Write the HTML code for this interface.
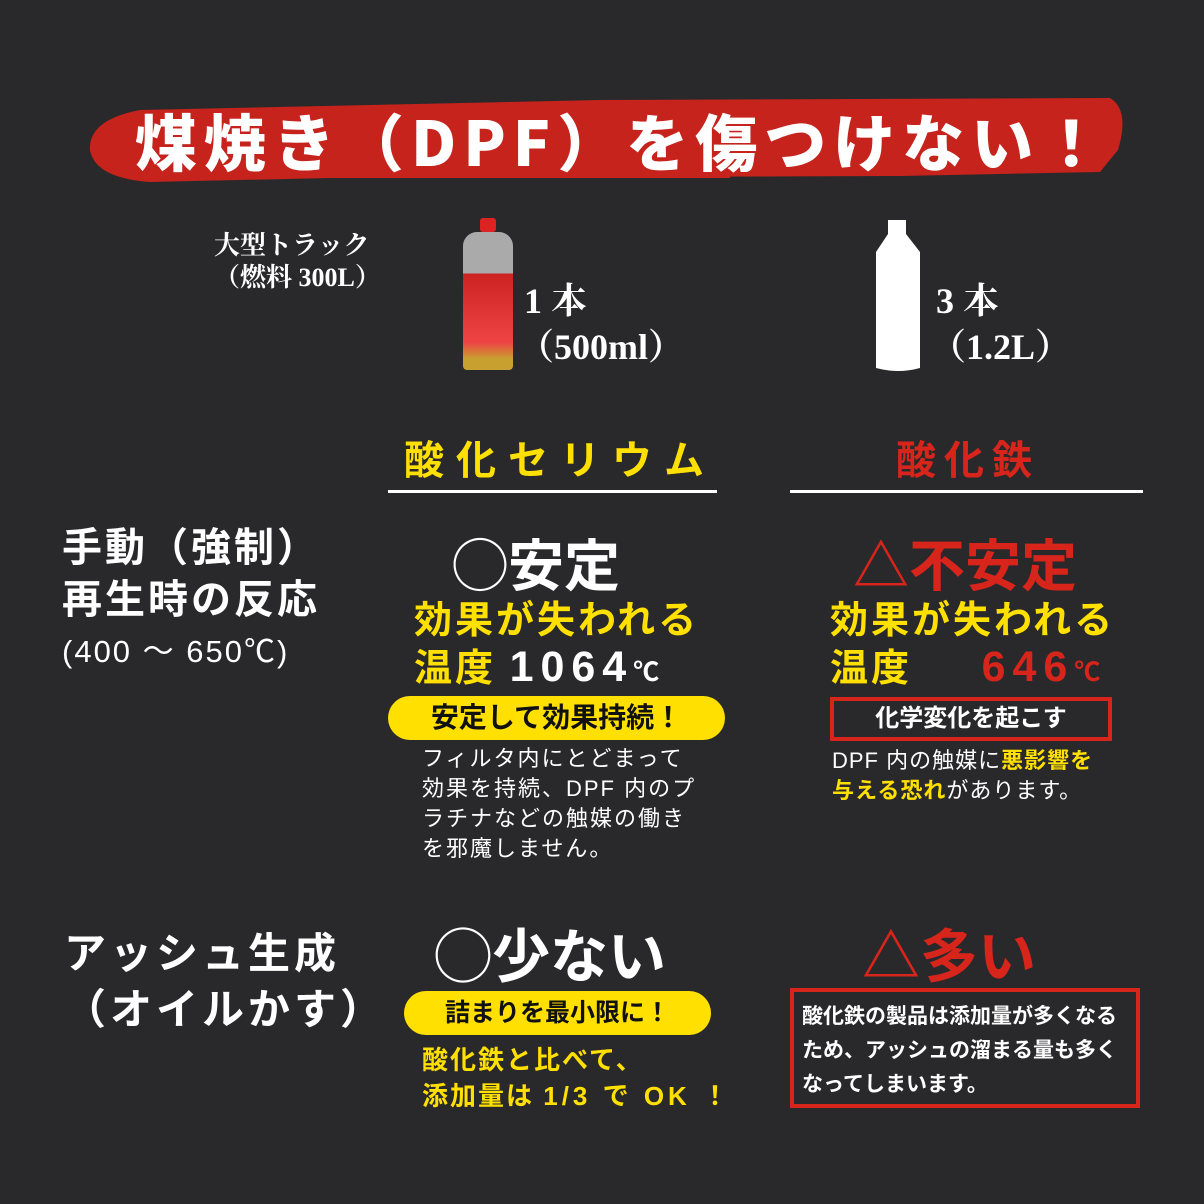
<!DOCTYPE html>
<html><head><meta charset="utf-8"><style>
body{margin:0;width:1204px;height:1204px;background:#29292b;position:relative;overflow:hidden;font-family:"Liberation Sans","Noto Sans CJK JP",sans-serif;font-weight:bold;color:#fff}
.a{position:absolute;white-space:nowrap}
.s{font-family:"Liberation Serif","Noto Serif CJK SC",serif}
.y{color:#ffe000}.r{color:#d8251c}
.pill{position:absolute;background:#ffe000;color:#111;border-radius:22px;text-align:center}
.box{position:absolute;border:4px solid #d8251c;box-sizing:border-box}
</style></head><body>
<svg class="a" style="left:0;top:0" width="1204" height="200">
<path d="M90 150 Q88 120 140 110 L600 100 L1110 98 Q1130 110 1118 150 L1100 172 L900 176 L330 178 L150 182 Q95 178 90 150Z" fill="#c5231c"/>
<rect x="330" y="174" width="400" height="4" fill="#c5231c"/>
</svg>
<div class="a" style="left:135px;top:94px;font-size:62px;letter-spacing:7px;font-family:'Noto Sans CJK JP',sans-serif;font-weight:900">煤焼き（DPF）を傷つけない！</div>
<div class="a s" style="left:214px;top:230px;font-size:26px;line-height:32px">大型トラック<br>（燃料 300L）</div>
<div class="a" style="left:463px;top:232px;width:50px;height:138px;background:linear-gradient(#aaa 0,#aaa 30%,#c22 30%,#e44 80%,#c8a030 92%);border-radius:14px 14px 4px 4px"></div>
<div class="a" style="left:480px;top:218px;width:16px;height:14px;background:#d22;border-radius:3px"></div>
<div class="a s" style="left:524px;top:278px;font-size:36px;line-height:46px">1 本<br><span style="margin-left:-6px">（500ml）</span></div>
<svg class="a" style="left:872px;top:220px" width="52" height="152"><path d="M16 0 H34 V14 L48 32 V148 Q26 154 4 148 V32 L16 14Z" fill="#fff"/></svg>
<div class="a s" style="left:936px;top:278px;font-size:36px;line-height:46px">3 本<br><span style="margin-left:-6px">（1.2L）</span></div>
<div class="a y" style="left:404px;top:428px;font-size:40px;letter-spacing:12px">酸化セリウム</div>
<div class="a r" style="left:896px;top:428px;font-size:40px;letter-spacing:8px">酸化鉄</div>
<div class="a" style="left:388px;top:490px;width:329px;height:3px;background:#fff"></div>
<div class="a" style="left:790px;top:490px;width:353px;height:3px;background:#fff"></div>
<div class="a" style="left:62px;top:522px;font-size:40px;line-height:52px;letter-spacing:3px">手動（強制）<br>再生時の反応</div>
<div class="a" style="left:62px;top:626px;font-size:31px;font-weight:normal;letter-spacing:2px">(400 ～ 650℃)</div>
<div class="a" style="left:452px;top:522px;font-size:56px">◯安定</div>
<div class="a y" style="left:414px;top:598px;font-size:38px;line-height:46px;letter-spacing:3px">効果が失われる<br>温度 <span style="color:#fff;letter-spacing:7px;font-size:43px">1064</span><span style="color:#fff;font-size:26px">℃</span></div>
<div class="pill" style="left:388px;top:696px;width:337px;height:44px;font-size:28px;line-height:44px">安定して効果持続！</div>
<div class="a" style="left:422px;top:744px;font-size:22px;line-height:30px;font-weight:normal;letter-spacing:2px">フィルタ内にとどまって<br>効果を持続、DPF 内のプ<br>ラチナなどの触媒の働き<br>を邪魔しません。</div>
<div class="a r" style="left:853px;top:522px;font-size:56px">△<span>不安定</span></div>
<div class="a y" style="left:830px;top:598px;font-size:38px;line-height:46px;letter-spacing:3px">効果が失われる<br>温度 <span class="r" style="margin-left:56px;letter-spacing:7px;font-size:43px">646</span><span class="r" style="font-size:26px">℃</span></div>
<div class="box" style="left:830px;top:697px;width:282px;height:44px;font-size:24px;line-height:36px;text-align:center">化学変化を起こす</div>
<div class="a" style="left:832px;top:746px;font-size:22px;line-height:30px;font-weight:normal;letter-spacing:1px">DPF 内の触媒に<span class="y" style="font-weight:bold">悪影響を</span><br><span class="y" style="font-weight:bold">与える恐れ</span>があります。</div>
<div class="a" style="left:64px;top:926px;font-size:42px;line-height:56px;letter-spacing:4px">アッシュ生成<br>（オイルかす）</div>
<div class="a" style="left:434px;top:910px;font-size:58px">◯少ない</div>
<div class="pill" style="left:404px;top:991px;width:307px;height:44px;font-size:25px;line-height:44px">詰まりを最小限に！</div>
<div class="a y" style="left:422px;top:1042px;font-size:26px;line-height:36px;letter-spacing:2px">酸化鉄と比べて、<br>添加量は <span style="letter-spacing:4px">1/3 で OK ！</span></div>
<div class="a r" style="left:862px;top:910px;font-size:58px">△多い</div>
<div class="box" style="left:790px;top:988px;width:350px;height:120px;padding:8px 8px;font-size:21px;line-height:34px">酸化鉄の製品は添加量が多くなる<br>ため、アッシュの溜まる量も多く<br>なってしまいます。</div>
</body></html>
